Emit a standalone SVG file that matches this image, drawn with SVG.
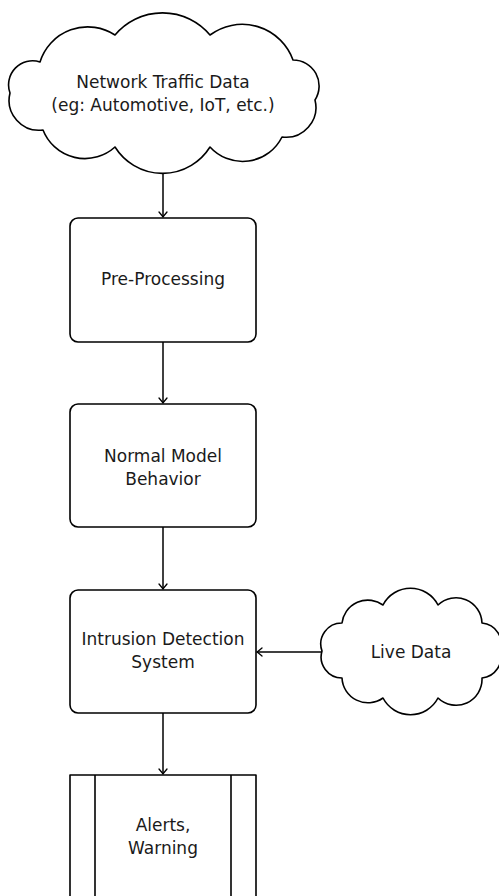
<svg xmlns="http://www.w3.org/2000/svg" width="499" height="896" viewBox="0 0 499 896">
<style>
  .shape { fill: #ffffff; stroke: #000000; stroke-width: 1.6; stroke-linejoin: round; }
  .edge { fill: none; stroke: #000000; stroke-width: 1.5; }
  text { font-family: "DejaVu Sans", "Liberation Sans", sans-serif; font-size: 17px; fill: #1a1a1a; text-anchor: middle; }
</style>
<defs>
  <marker id="arr" viewBox="-6 -5 8 10" markerWidth="8" markerHeight="10" refX="0" refY="0" orient="auto" markerUnits="userSpaceOnUse">
    <path d="M -5,-4 Q -1.5,-1 0,0 Q -1.5,1 -5,4" fill="none" stroke="#000" stroke-width="1.3" stroke-linecap="round"/>
  </marker>
</defs>
<rect width="499" height="896" fill="#ffffff"/>

<g id="connectors">
  <line class="edge" x1="163" y1="173" x2="163" y2="217" marker-end="url(#arr)"/>
  <line class="edge" x1="163" y1="342" x2="163" y2="403" marker-end="url(#arr)"/>
  <line class="edge" x1="163" y1="527" x2="163" y2="589" marker-end="url(#arr)"/>
  <line class="edge" x1="163" y1="713" x2="163" y2="774" marker-end="url(#arr)"/>
  <line class="edge" x1="322" y1="652" x2="257" y2="652" marker-end="url(#arr)"/>
</g>

<g id="network-traffic">
  <path class="shape" d="M 40,62 A 50,50 0 0 1 115,35 A 62,62 0 0 1 210,35 A 54,54 0 0 1 293,60 A 26,26 0 0 1 315,100 A 30,30 0 0 1 282,137 A 44,44 0 0 1 210,147 A 56,56 0 0 1 115,147 A 45,45 0 0 1 43,130 A 30,30 0 0 1 10,93 A 24,24 0 0 1 40,62 Z"/>
  <text x="163" y="88">Network Traffic Data</text>
  <text x="163" y="111">(eg: Automotive, IoT, etc.)</text>
</g>

<g id="pre-processing">
  <rect class="shape" x="70" y="218" width="186" height="124" rx="8" ry="8"/>
  <text x="163" y="285">Pre-Processing</text>
</g>

<g id="normal-model">
  <rect class="shape" x="70" y="404" width="186" height="123" rx="8" ry="8"/>
  <text x="163" y="462">Normal Model</text>
  <text x="163" y="485">Behavior</text>
</g>

<g id="ids">
  <rect class="shape" x="70" y="590" width="186" height="123" rx="8" ry="8"/>
  <text x="163" y="645">Intrusion Detection</text>
  <text x="163" y="668">System</text>
</g>

<g id="live-data">
  <path class="shape" d="M 322,651 A 21,21 0 0 1 342,623 A 26,26 0 0 1 383,605 A 31,31 0 0 1 438,605 A 26,26 0 0 1 482,623 A 21,21 0 0 1 500,651 A 21,21 0 0 1 482,678 A 26,26 0 0 1 438,698 A 31,31 0 0 1 383,698 A 26,26 0 0 1 342,678 A 21,21 0 0 1 322,651 Z"/>
  <text x="411" y="658">Live Data</text>
</g>

<g id="alerts">
  <rect class="shape" x="70" y="775" width="186" height="140"/>
  <line class="shape" x1="95" y1="775" x2="95" y2="915"/>
  <line class="shape" x1="231" y1="775" x2="231" y2="915"/>
  <text x="163" y="831">Alerts,</text>
  <text x="163" y="854">Warning</text>
</g>
</svg>
